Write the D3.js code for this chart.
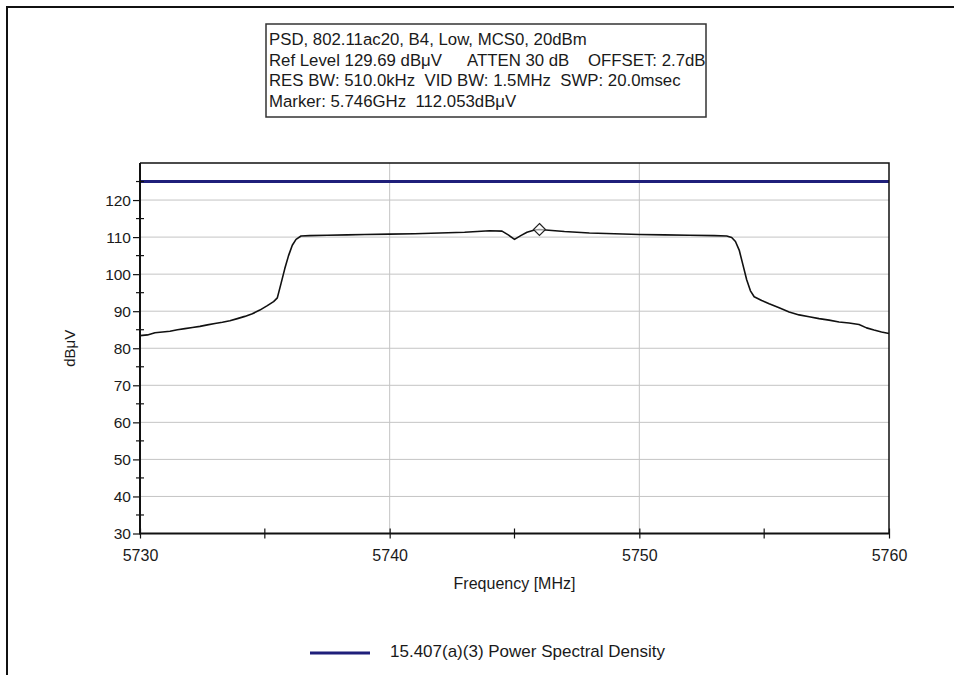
<!DOCTYPE html>
<html>
<head>
<meta charset="utf-8">
<script src="https://cdn.jsdelivr.net/npm/d3@7"></script>
<style>
  body { margin: 0; background: #fff; }
  text { font-family: "Liberation Sans", Arial, sans-serif; fill: #1a1a1a; }
</style>
</head>
<body>
<svg id="chart"></svg>
<script>
// spectrum trace
var freqs = [5730.0, 5730.3, 5730.6, 5730.9, 5731.2, 5731.5, 5731.8, 5732.1, 5732.4, 5732.7,
  5733.0, 5733.3, 5733.6, 5733.9, 5734.2, 5734.5, 5734.8, 5735.1, 5735.35, 5735.5,
  5735.65, 5735.8, 5735.95, 5736.1, 5736.25, 5736.45, 5736.8, 5737.5, 5738.3, 5739.0,
  5740.0, 5741.0, 5742.0, 5743.0, 5744.0, 5744.5, 5744.75, 5745.0, 5745.25, 5745.5,
  5745.8, 5746.0, 5746.5, 5747.0, 5748.0, 5749.0, 5750.0, 5751.0, 5752.0, 5753.0,
  5753.5, 5753.7, 5753.85, 5754.0, 5754.15, 5754.3, 5754.45, 5754.6, 5754.9, 5755.2,
  5755.6, 5756.0, 5756.4, 5756.8, 5757.2, 5757.6, 5758.0, 5758.4, 5758.8, 5759.1,
  5759.4, 5759.7, 5760.0];
var levels = [83.4, 83.6, 84.2, 84.4, 84.6, 85.0, 85.3, 85.6, 85.9, 86.3,
  86.7, 87.0, 87.4, 88.0, 88.6, 89.3, 90.3, 91.5, 92.6, 93.6,
  97.5, 101.5, 105.0, 107.8, 109.4, 110.3, 110.4, 110.5, 110.6, 110.7,
  110.8, 110.9, 111.1, 111.3, 111.7, 111.6, 110.6, 109.4, 110.4, 111.3,
  111.9, 112.05, 111.8, 111.5, 111.1, 110.9, 110.7, 110.6, 110.5, 110.4,
  110.3, 109.9, 108.8, 106.5, 102.5, 98.5, 95.5, 93.9, 92.9, 92.0,
  90.9, 89.8, 89.0, 88.5, 88.0, 87.6, 87.1, 86.8, 86.4, 85.5,
  84.9, 84.4, 84.0];
var limitLevel = 125;
var markerFreq = 5746, markerLevel = 112.05;
var xTicks = [5730, 5740, 5750, 5760];
var xMinor = [5735, 5745, 5755];
var yTicks = [30, 40, 50, 60, 70, 80, 90, 100, 110, 120];
var yMinor = [35, 45, 55, 65, 75, 85, 95, 105, 115, 125];
var headerLines = [
  ["PSD, 802.11ac20, B4, Low, MCS0, 20dBm"],
  ["Ref Level 129.69 dB\u03bcV", "ATTEN 30 dB", "OFFSET: 2.7dB"],
  ["RES BW: 510.0kHz  VID BW: 1.5MHz  SWP: 20.0msec"],
  ["Marker: 5.746GHz  112.053dB\u03bcV"]
];
var legendLabel = "15.407(a)(3) Power Spectral Density";

function init(){
  var width = 954, height = 675;
  var pl = 140, pr = 889, pt = 163, pb = 533.5;
  var navy = "#1f1f7a";

  var svg = d3.select("#chart").attr("width", width).attr("height", height);

  var x = d3.scaleLinear().domain([5730, 5760]).range([pl, pr]);
  var y = d3.scaleLinear().domain([30, 130]).range([pb, pt]);

  // outer frame
  svg.append("path").attr("d", "M7," + height + "V7H" + width)
    .attr("fill", "none").attr("stroke", "#111").attr("stroke-width", 2);

  // header box
  var box = svg.append("g");
  box.append("rect").attr("x", 266).attr("y", 24).attr("width", 440).attr("height", 93)
    .attr("fill", "#fff").attr("stroke", "#333").attr("stroke-width", 1.5);
  var segX = [[269], [269, 467, 588], [269], [269]];
  headerLines.forEach(function(line, i){
    line.forEach(function(s, j){
      box.append("text").attr("x", segX[i][j]).attr("y", 45 + i*20.5)
        .style("white-space", "pre")
        .style("font-size", "16.8px").text(s);
    });
  });

  // grid
  var grid = svg.append("g").attr("stroke", "#c4c4c4").attr("stroke-width", 1);
  grid.selectAll("line.h").data(yTicks.filter(function(d){return d > 30;})).enter().append("line")
    .attr("x1", pl).attr("x2", pr)
    .attr("y1", function(d){return y(d);}).attr("y2", function(d){return y(d);});
  grid.selectAll("line.v").data([5740, 5750]).enter().append("line")
    .attr("y1", pt).attr("y2", pb)
    .attr("x1", function(d){return x(d);}).attr("x2", function(d){return x(d);});

  // limit line
  svg.append("line").attr("x1", pl).attr("x2", pr)
    .attr("y1", y(limitLevel)).attr("y2", y(limitLevel))
    .attr("stroke", navy).attr("stroke-width", 3);

  // trace
  var pts = freqs.map(function(f, i){ return [f, levels[i]]; });
  var line = d3.line().x(function(d){return x(d[0]);}).y(function(d){return y(d[1]);});
  svg.append("path").attr("d", line(pts))
    .attr("fill", "none").attr("stroke", "#111").attr("stroke-width", 1.6)
    .attr("stroke-linejoin", "round");

  // marker
  var mx = x(markerFreq), my = y(markerLevel);
  svg.append("path")
    .attr("d", "M" + mx + "," + (my-6) + "L" + (mx+6) + "," + my + "L" + mx + "," + (my+6) + "L" + (mx-6) + "," + my + "Z")
    .attr("fill", "#fff").attr("fill-opacity", 0.6).attr("stroke", "#222").attr("stroke-width", 1.2);

  // frame top/right
  svg.append("path").attr("d", "M" + pl + "," + pt + "H" + pr + "V" + pb)
    .attr("fill", "none").attr("stroke", "#111").attr("stroke-width", 1.5);

  // axes
  var yAxis = d3.axisLeft(y).tickValues(yTicks).tickSize(7).tickPadding(2);
  var gy = svg.append("g").attr("transform", "translate(" + pl + ",0)").call(yAxis);
  gy.select(".domain").remove();
  gy.selectAll("text").style("font-size", "15.5px").attr("fill", "#1a1a1a");
  gy.selectAll("line").attr("stroke", "#111").attr("stroke-width", 1.2);
  svg.append("g").selectAll("line").data(yMinor).enter().append("line")
    .attr("x1", pl - 4).attr("x2", pl + 4)
    .attr("y1", function(d){return y(d);}).attr("y2", function(d){return y(d);})
    .attr("stroke", "#111").attr("stroke-width", 1.2);

  var xAxis = d3.axisBottom(x).tickValues(xTicks).tickFormat(d3.format("d")).tickSize(5).tickPadding(11);
  var gx = svg.append("g").attr("transform", "translate(0," + pb + ")").call(xAxis);
  gx.select(".domain").remove();
  gx.selectAll("text").style("font-size", "16px").attr("fill", "#1a1a1a");
  gx.selectAll("line").attr("stroke", "#111").attr("y1", -5).attr("stroke-width", 1.2);
  svg.append("g").selectAll("line").data(xMinor).enter().append("line")
    .attr("x1", function(d){return x(d);}).attr("x2", function(d){return x(d);})
    .attr("y1", pb - 5).attr("y2", pb + 5)
    .attr("stroke", "#111").attr("stroke-width", 1.2);

  svg.append("path").attr("d", "M" + pl + "," + pt + "V" + pb + "H" + pr)
    .attr("fill", "none").attr("stroke", "#111").attr("stroke-width", 2);

  // axis titles
  svg.append("text").attr("transform", "translate(75," + ((pt + pb)/2) + ") rotate(-90)")
    .attr("text-anchor", "middle").style("font-size", "15px").text("dB\u03bcV");
  svg.append("text").attr("x", (pl + pr)/2).attr("y", 589)
    .attr("text-anchor", "middle").style("font-size", "16px").text("Frequency [MHz]");

  // legend
  svg.append("line").attr("x1", 310).attr("x2", 370).attr("y1", 653).attr("y2", 653)
    .attr("stroke", navy).attr("stroke-width", 3);
  svg.append("text").attr("x", 390).attr("y", 653).attr("dominant-baseline", "middle")
    .style("font-size", "17px").text(legendLabel);
}
init();
</script>
</body>
</html>
